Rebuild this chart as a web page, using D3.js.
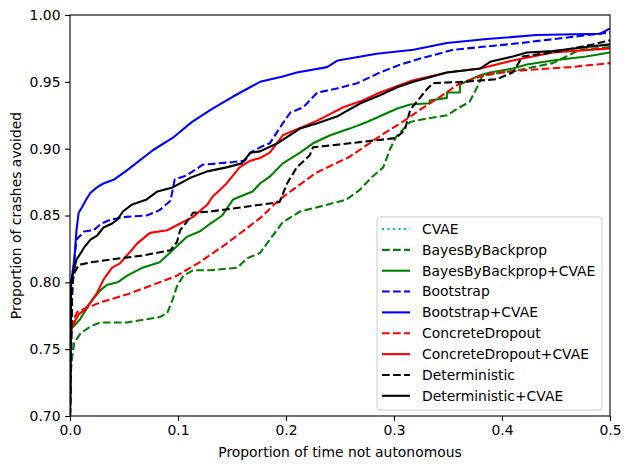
<!DOCTYPE html>
<html>
<head>
<meta charset="utf-8">
<script src="https://cdn.jsdelivr.net/npm/d3@7"></script>
<style>
  body { margin: 0; background: #fff; }
  svg { font-family: "DejaVu Sans", sans-serif; font-size: 13.9px; }
</style>
</head>
<body>
<svg id="chart" width="630" height="470"></svg>
<script>
// curves, [proportion of time not autonomous, proportion of crashes avoided]
var cvae = [];   // shows in the legend but nothing visible in the plot

var bayesByBackprop = [[0,0.70],[0.001,0.735],[0.002,0.744],[0.004,0.755],[0.010,0.762],[0.019,0.767],[0.028,0.770],
  [0.053,0.770],[0.083,0.774],[0.090,0.777],[0.095,0.787],[0.099,0.797],[0.105,0.805],[0.114,0.809],[0.130,0.809],
  [0.155,0.811],[0.164,0.818],[0.176,0.822],[0.185,0.832],[0.197,0.845],[0.213,0.853],[0.238,0.858],[0.256,0.862],
  [0.268,0.869],[0.280,0.879],[0.290,0.886],[0.296,0.899],[0.302,0.909],[0.315,0.920],[0.327,0.922],[0.349,0.925],
  [0.361,0.931],[0.370,0.935],[0.377,0.946],[0.382,0.955],[0.401,0.957],[0.417,0.959],[0.447,0.964],[0.472,0.974],[0.5,0.976]];

var bayesByBackpropCVAE = [[0,0.70],[0.001,0.762],[0.002,0.766],[0.009,0.772],[0.019,0.785],[0.028,0.794],[0.034,0.798],
  [0.044,0.800],[0.053,0.805],[0.067,0.811],[0.083,0.815],[0.095,0.824],[0.108,0.834],[0.120,0.838],[0.130,0.844],
  [0.141,0.850],[0.151,0.862],[0.169,0.868],[0.176,0.874],[0.185,0.879],[0.197,0.889],[0.213,0.897],[0.225,0.904],
  [0.241,0.910],[0.259,0.915],[0.275,0.920],[0.303,0.930],[0.315,0.933],[0.333,0.934],[0.333,0.936],[0.349,0.938],
  [0.349,0.942],[0.361,0.942],[0.361,0.948],[0.380,0.955],[0.389,0.957],[0.410,0.960],[0.423,0.963],[0.447,0.966],
  [0.478,0.969],[0.5,0.972]];

var bootstrap = [[0,0.70],[0.002,0.79],[0.004,0.817],[0.006,0.832],[0.013,0.838],[0.022,0.839],[0.029,0.844],
  [0.038,0.847],[0.052,0.849],[0.071,0.850],[0.083,0.854],[0.093,0.861],[0.097,0.877],[0.108,0.880],[0.123,0.888],
  [0.151,0.890],[0.162,0.891],[0.167,0.897],[0.176,0.901],[0.185,0.904],[0.197,0.919],[0.204,0.927],[0.216,0.931],
  [0.229,0.942],[0.247,0.945],[0.266,0.949],[0.287,0.957],[0.306,0.963],[0.327,0.968],[0.355,0.974],[0.380,0.976],
  [0.417,0.979],[0.469,0.984],[0.5,0.987]];

var bootstrapCVAE = [[0,0.70],[0.001,0.80],[0.004,0.817],[0.006,0.839],[0.008,0.852],[0.011,0.856],[0.015,0.862],
  [0.019,0.867],[0.025,0.871],[0.031,0.874],[0.041,0.877],[0.053,0.884],[0.077,0.899],[0.095,0.908],[0.113,0.920],
  [0.132,0.930],[0.151,0.939],[0.176,0.950],[0.197,0.954],[0.210,0.957],[0.238,0.961],[0.248,0.966],[0.284,0.971],
  [0.318,0.974],[0.349,0.979],[0.386,0.982],[0.432,0.985],[0.491,0.986],[0.5,0.990]];

var concreteDropout = [[0,0.70],[0.001,0.765],[0.003,0.772],[0.007,0.778],[0.016,0.781],[0.028,0.785],[0.053,0.791],
  [0.083,0.800],[0.099,0.805],[0.120,0.815],[0.145,0.829],[0.176,0.848],[0.194,0.862],[0.228,0.882],[0.259,0.894],
  [0.290,0.911],[0.306,0.919],[0.324,0.929],[0.343,0.939],[0.361,0.949],[0.380,0.954],[0.398,0.957],[0.426,0.959],
  [0.463,0.961],[0.5,0.964]];

var concreteDropoutCVAE = [[0,0.70],[0.001,0.765],[0.002,0.767],[0.008,0.776],[0.013,0.779],[0.019,0.785],[0.025,0.792],
  [0.031,0.802],[0.039,0.811],[0.046,0.814],[0.057,0.824],[0.062,0.829],[0.074,0.837],[0.090,0.839],[0.102,0.844],
  [0.114,0.849],[0.127,0.858],[0.132,0.864],[0.145,0.874],[0.157,0.886],[0.167,0.891],[0.176,0.893],[0.185,0.897],
  [0.197,0.910],[0.229,0.921],[0.253,0.931],[0.271,0.936],[0.287,0.942],[0.317,0.951],[0.349,0.957],[0.380,0.960],
  [0.410,0.966],[0.447,0.972],[0.5,0.975]];

var deterministic = [[0,0.70],[0.002,0.80],[0.004,0.807],[0.008,0.813],[0.019,0.815],[0.037,0.817],[0.067,0.820],
  [0.093,0.824],[0.099,0.830],[0.102,0.839],[0.108,0.845],[0.114,0.852],[0.130,0.853],[0.176,0.858],[0.194,0.860],
  [0.201,0.874],[0.210,0.886],[0.222,0.895],[0.225,0.901],[0.259,0.904],[0.302,0.908],[0.310,0.914],[0.315,0.929],
  [0.321,0.935],[0.330,0.944],[0.336,0.949],[0.364,0.950],[0.395,0.952],[0.410,0.957],[0.419,0.969],[0.447,0.972],
  [0.484,0.978],[0.5,0.981]];

var deterministicCVAE = [[0,0.70],[0.001,0.80],[0.006,0.817],[0.010,0.822],[0.013,0.826],[0.019,0.832],[0.025,0.835],
  [0.031,0.841],[0.039,0.844],[0.044,0.847],[0.049,0.853],[0.057,0.858],[0.071,0.862],[0.081,0.868],[0.095,0.871],
  [0.111,0.878],[0.127,0.883],[0.145,0.886],[0.159,0.889],[0.167,0.897],[0.176,0.898],[0.192,0.904],[0.213,0.915],
  [0.229,0.919],[0.247,0.924],[0.269,0.934],[0.287,0.940],[0.303,0.946],[0.318,0.950],[0.349,0.957],[0.380,0.960],
  [0.389,0.965],[0.410,0.969],[0.423,0.972],[0.447,0.973],[0.478,0.976],[0.5,0.978]];

var seriesNames = ["CVAE", "BayesByBackprop", "BayesByBackprop+CVAE", "Bootstrap", "Bootstrap+CVAE",
  "ConcreteDropout", "ConcreteDropout+CVAE", "Deterministic", "Deterministic+CVAE"];
var seriesData = [cvae, bayesByBackprop, bayesByBackpropCVAE, bootstrap, bootstrapCVAE,
  concreteDropout, concreteDropoutCVAE, deterministic, deterministicCVAE];
var seriesColors = ["#00bfbf", "#008000", "#008000", "#0000ff", "#0000ff", "#ff0000", "#ff0000", "#000000", "#000000"];
var seriesDash = ["2.1,3.4", "7.7,3.3", null, "7.7,3.3", null, "7.7,3.3", null, "7.7,3.3", null];

var xTicks = [0, 0.1, 0.2, 0.3, 0.4, 0.5];
var yTicks = [0.70, 0.75, 0.80, 0.85, 0.90, 0.95, 1.00];

// plot box
var margin = {top: 15, right: 20, bottom: 54, left: 70};
var svg = d3.select("#chart");
var width = 630 - margin.left - margin.right;
var height = 470 - margin.top - margin.bottom;

var x = d3.scaleLinear().domain([0, 0.5]).range([0, width]);
var y = d3.scaleLinear().domain([0.7, 1.0]).range([height, 0]);

var g = svg.append("g").attr("transform", "translate(" + margin.left + "," + margin.top + ")");

g.append("clipPath").attr("id", "plotclip")
  .append("rect").attr("width", width).attr("height", height);

var line = d3.line()
  .x(function(d) { return x(d[0]); })
  .y(function(d) { return y(d[1]); });

var lines = g.append("g").attr("clip-path", "url(#plotclip)");
seriesData.forEach(function(data, i) {
  if (data.length == 0) return;
  lines.append("path")
    .datum(data)
    .attr("d", line)
    .attr("fill", "none")
    .attr("stroke", seriesColors[i])
    .attr("stroke-width", 2.1)
    .attr("stroke-dasharray", seriesDash[i])
    .attr("stroke-linejoin", "round");
});

// axes
var xAxis = g.append("g").attr("transform", "translate(0," + height + ")")
  .call(d3.axisBottom(x).tickValues(xTicks).tickFormat(d3.format(".1f")).tickSizeOuter(0).tickSize(4.9).tickPadding(4.6));
var yAxis = g.append("g")
  .call(d3.axisLeft(y).tickValues(yTicks).tickFormat(d3.format(".2f")).tickSizeOuter(0).tickSize(4.9).tickPadding(4.6));

[xAxis, yAxis].forEach(function(ax) {
  ax.select(".domain").remove();
  ax.selectAll("text").attr("font-size", 13.9).attr("font-family", "DejaVu Sans").attr("fill", "#000");
  ax.selectAll("line").attr("stroke", "#000").attr("stroke-width", 1.1);
});

g.append("rect")
  .attr("width", width).attr("height", height)
  .attr("fill", "none").attr("stroke", "#000").attr("stroke-width", 1.1);

svg.append("text")
  .attr("x", margin.left + width / 2).attr("y", 457)
  .attr("text-anchor", "middle")
  .text("Proportion of time not autonomous");

svg.append("text")
  .attr("transform", "translate(21," + (margin.top + height / 2) + ") rotate(-90)")
  .attr("text-anchor", "middle")
  .text("Proportion of crashes avoided");

// legend
var legend = svg.append("g").attr("transform", "translate(377,217)");
legend.append("rect")
  .attr("width", 225).attr("height", 193)
  .attr("rx", 3).attr("ry", 3)
  .attr("fill", "#fff").attr("fill-opacity", 0.8)
  .attr("stroke", "#cccccc").attr("stroke-width", 1);

seriesNames.forEach(function(name, i) {
  var row = legend.append("g").attr("transform", "translate(0," + (12 + i * 20.85) + ")");
  row.append("line")
    .attr("x1", 5).attr("x2", 33)
    .attr("stroke", seriesColors[i])
    .attr("stroke-width", 2.1)
    .attr("stroke-dasharray", seriesDash[i]);
  row.append("text")
    .attr("x", 45).attr("y", 0)
    .attr("dy", "0.35em")
    .text(name);
});
</script>
</body>
</html>
